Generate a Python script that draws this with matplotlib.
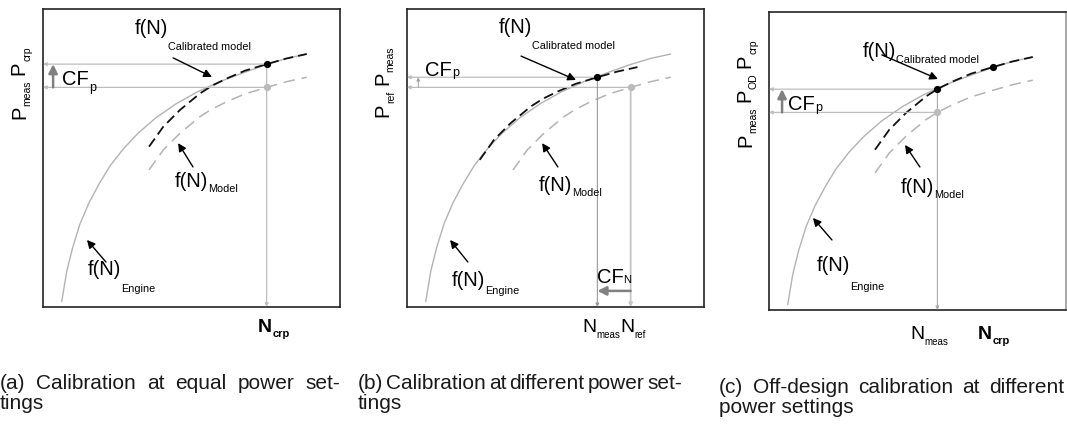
import matplotlib
matplotlib.use("Agg")
import matplotlib.pyplot as plt

plt.rcParams["font.family"] = ["Liberation Sans", "DejaVu Sans"]

# --- curves (axis units 0..100, shared by all three sketches) ---
engine_n = [6.3, 8.0, 10.0, 12.5, 15.5, 19.0, 22.6, 27.0, 32.0, 38.0,
            45.0, 52.0, 60.0, 68.0, 75.3, 82.0, 88.8]
engine_p = [1.8, 12.0, 20.0, 28.0, 35.0, 41.5, 47.4, 53.0, 58.3, 63.5,
            68.3, 72.2, 75.8, 78.8, 81.4, 83.4, 84.9]

model_n = [35.7, 40.5, 46.1, 52.9, 57.0, 61.9, 68.0, 75.3, 82.0, 88.8]
model_p = [46.0, 52.7, 58.3, 63.9, 66.5, 68.9, 71.5, 73.7, 75.6, 77.1]

# calibrated model, power correction only (a, c)
calp_n = [35.7, 40.5, 46.1, 52.9, 57.0, 61.9, 68.0, 75.3, 82.0, 88.8]
calp_p = [53.8, 60.5, 66.1, 71.7, 74.3, 76.7, 79.3, 81.5, 83.4, 84.9]

# calibrated model, speed + power correction (b)
caln_n = [24.5, 29.3, 34.9, 41.7, 45.8, 50.7, 56.8, 64.1, 70.8, 77.6]
caln_p = [49.4, 56.1, 61.7, 67.3, 69.9, 72.3, 74.9, 77.1, 79.0, 80.5]

# operating points
a_cal_pt = (75.3, 81.5)
a_mod_pt = (75.3, 73.7)
b_cal_pt = (64.1, 77.1)
b_mod_pt = (75.3, 73.7)
c_cal_pt = (56.7, 74.1)
c_crp_pt = (75.3, 81.5)
c_mod_pt = (56.7, 66.3)

captions = [
    ["(a)", "Calibration", "at", "equal", "power", "set-"], ["tings"],
    ["(b)", "Calibration", "at", "different", "power", "set-"], ["tings"],
    ["(c)", "Off-design", "calibration", "at", "different"], ["power settings"],
]

W, H = 1067, 424
fig = plt.figure(figsize=(W / 100, H / 100), dpi=100)

GRAY = "#b3b3b3"
LINE = "#bdbdbd"
DARK = "#808080"
DESC = 0.212


def px_axes(left, top, right, bottom):
    ax = fig.add_axes([left / W, 1 - bottom / H, (right - left) / W, (bottom - top) / H])
    ax.set_xlim(0, 100)
    ax.set_ylim(0, 100)
    ax.set_xticks([])
    ax.set_yticks([])
    for sp in ax.spines.values():
        sp.set_color("#222222")
        sp.set_linewidth(1.2)
    return ax


def curves(ax, cal_n, cal_p):
    ax.plot(engine_n, engine_p, color=GRAY, lw=1.0, solid_capstyle="round")
    ax.plot(model_n, model_p, color=GRAY, lw=1.1, linestyle=(0, (7.5, 4.5)))
    ax.plot(cal_n, cal_p, color="#111111", lw=1.3, linestyle=(0, (5.5, 2.8)))


def ref_line(ax, start, end, color=LINE, lw=0.9):
    ax.annotate("", xy=end, xytext=start,
                arrowprops=dict(arrowstyle="-|>", color=color, lw=lw,
                                mutation_scale=5, shrinkA=0, shrinkB=0))


def big_arrow(ax, start, end, color=DARK, lw=1.8, scale=13):
    ax.annotate("", xy=end, xytext=start,
                arrowprops=dict(arrowstyle="-|>", color=color, lw=lw,
                                mutation_scale=scale, shrinkA=0, shrinkB=0))


def pointer(ax, start, end):
    ax.annotate("", xy=end, xytext=start,
                arrowprops=dict(arrowstyle="-|>", color="black", lw=1.0,
                                mutation_scale=12, shrinkA=0, shrinkB=0))


def dot(ax, pt, color):
    ax.plot(*pt, "o", color=color, ms=4.2, zorder=5)


def sub_text(ax, x, y, pairs, size=14.5, subsize=7.8, drop=5, weight="normal", gap=0):
    first = prev = None
    for main, sub in pairs:
        if first is None:
            t = ax.text(x, y, main, fontsize=size, fontweight=weight,
                        ha="left", va="baseline")
            first = t
        else:
            t = ax.annotate(main, xy=(1, 0), xycoords=(prev, first),
                            xytext=(gap, DESC * size), textcoords="offset points",
                            fontsize=size, fontweight=weight, ha="left", va="baseline")
        prev = ax.annotate(sub, xy=(1, 0), xycoords=t,
                           xytext=(0, DESC * size - drop * 0.72), textcoords="offset points",
                           fontsize=subsize, fontweight=weight, ha="left", va="baseline")


def sub_text_v(ax, x, y, pairs, size=14.5, subsize=7.5, drop=6, gap=4):
    first = prev = None
    for main, sub in pairs:
        if first is None:
            t = ax.text(x, y, main, fontsize=size, rotation=90, rotation_mode="anchor",
                        ha="left", va="baseline")
            first = t
        else:
            t = ax.annotate(main, xy=(1, 1), xycoords=(first, prev),
                            xytext=(-DESC * size, gap), textcoords="offset points",
                            fontsize=size, rotation=90, rotation_mode="anchor",
                            ha="left", va="baseline")
        prev = ax.annotate(sub, xy=(1, 1), xycoords=t,
                           xytext=(-DESC * size + drop * 0.72, 0), textcoords="offset points",
                           fontsize=subsize, rotation=90, rotation_mode="anchor",
                           ha="left", va="baseline")


def justified(words, x0, x1, y, size=15):
    r = fig.canvas.get_renderer()
    texts = [fig.text(0, 1 - y / H, w, fontsize=size, color="#1a1a1a", va="baseline") for w in words]
    widths = [t.get_window_extent(r).width for t in texts]
    space = (x1 - x0 - sum(widths)) / max(len(words) - 1, 1)
    pos = x0
    for t, w in zip(texts, widths):
        t.set_x(pos / W)
        pos += w + space


# (a) calibration at equal power settings
ax = px_axes(43, 9, 340, 307)
ref_line(ax, a_cal_pt, (0, a_cal_pt[1]))
ref_line(ax, a_mod_pt, (0, a_mod_pt[1]))
ref_line(ax, a_cal_pt, (a_cal_pt[0], 0))
curves(ax, calp_n, calp_p)
dot(ax, a_mod_pt, "#bbbbbb")
dot(ax, a_cal_pt, "black")
big_arrow(ax, (3.4, a_mod_pt[1]), (3.4, a_cal_pt[1]))
sub_text(ax, 6.4, 74.5, [("CF", "p")], subsize=9, drop=6)
sub_text(ax, 31.0, 91.6, [("f(N)", "Calibrated model")], drop=16)
sub_text(ax, 44.4, 40.3, [("f(N)", "Model")], drop=5)
sub_text(ax, 15.2, 10.7, [("f(N)", "Engine")], drop=17)
pointer(ax, (43.8, 83.6), (56.9, 77.2))
pointer(ax, (50.5, 47.0), (45.5, 55.0))
pointer(ax, (21.2, 15.1), (14.8, 22.5))
sub_text(ax, 72.4, -8.4, [("N", "crp")], size=14, subsize=8, drop=5, weight="bold")
sub_text_v(ax, -6.1, 63.1, [("P", "meas"), ("P", "crp")])

# (b) calibration at different power settings
ax = px_axes(407, 9, 704, 307)
ref_line(ax, b_cal_pt, (0, b_cal_pt[1]))
ref_line(ax, b_mod_pt, (0, b_mod_pt[1]))
ref_line(ax, b_cal_pt, (b_cal_pt[0], 0), color="#9a9a9a", lw=0.8)
ref_line(ax, b_mod_pt, (b_mod_pt[0], 0), color="#c4c4c4", lw=1.3)
curves(ax, caln_n, caln_p)
dot(ax, b_mod_pt, "#bbbbbb")
dot(ax, b_cal_pt, "black")
ref_line(ax, (3.8, b_mod_pt[1]), (3.8, b_cal_pt[1]), color="#a0a0a0", lw=0.7)
sub_text(ax, 6.1, 77.5, [("CF", "p")], subsize=9, drop=0)
big_arrow(ax, (b_mod_pt[0], 5.4), (b_cal_pt[0], 5.4))
sub_text(ax, 63.9, 8.2, [("CF", "N")], subsize=8, drop=1)
sub_text(ax, 31.0, 91.9, [("f(N)", "Calibrated model")], drop=16)
sub_text(ax, 44.4, 39.0, [("f(N)", "Model")], drop=5)
sub_text(ax, 15.2, 7.2, [("f(N)", "Engine")], drop=9)
pointer(ax, (38.4, 84.2), (56.9, 76.2))
pointer(ax, (50.8, 47.0), (45.5, 55.0))
pointer(ax, (20.5, 15.1), (14.5, 22.5))
sub_text(ax, 58.9, -8.4, [("N", "meas"), ("N", "ref")], size=14, subsize=7, drop=6)
sub_text_v(ax, -6.3, 63.9, [("P", "ref"), ("P", "meas")])

# (c) off-design calibration at different power settings
ax = px_axes(769, 12, 1066, 310)
ax.spines["right"].set_color("#9a9a9a")
ref_line(ax, c_cal_pt, (0, c_cal_pt[1]))
ref_line(ax, c_mod_pt, (0, c_mod_pt[1]))
ref_line(ax, c_cal_pt, (c_cal_pt[0], 0), color="#a8a8a8", lw=0.8)
curves(ax, calp_n, calp_p)
dot(ax, c_mod_pt, "#bbbbbb")
dot(ax, c_cal_pt, "black")
dot(ax, c_crp_pt, "black")
big_arrow(ax, (4.4, c_mod_pt[1]), (4.4, c_cal_pt[1]))
sub_text(ax, 6.5, 67.1, [("CF", "p")], subsize=9, drop=1)
sub_text(ax, 31.6, 84.8, [("f(N)", "Calibrated model")], drop=6)
sub_text(ax, 44.4, 39.4, [("f(N)", "Model")], drop=6)
sub_text(ax, 16.2, 13.2, [("f(N)", "Engine")], drop=20)
pointer(ax, (38.0, 85.6), (56.9, 77.5))
pointer(ax, (50.8, 48.0), (45.8, 55.4))
pointer(ax, (21.2, 23.5), (14.8, 30.9))
sub_text(ax, 47.5, -9.7, [("N", "meas")], size=14, subsize=7, drop=6)
sub_text(ax, 70.4, -9.7, [("N", "crp")], size=14, subsize=8, drop=5, weight="bold")
sub_text_v(ax, -6.1, 54.8, [("P", "meas"), ("P", "OD"), ("P", "crp")])

# captions
justified(captions[0], 0, 340, 389)
justified(captions[1], 0, 0, 409)
justified(captions[2], 358, 682, 389)
justified(captions[3], 358, 358, 409)
justified(captions[4], 719, 1064, 393)
justified(captions[5], 719, 719, 413)

fig.savefig("out.png", dpi=100)
